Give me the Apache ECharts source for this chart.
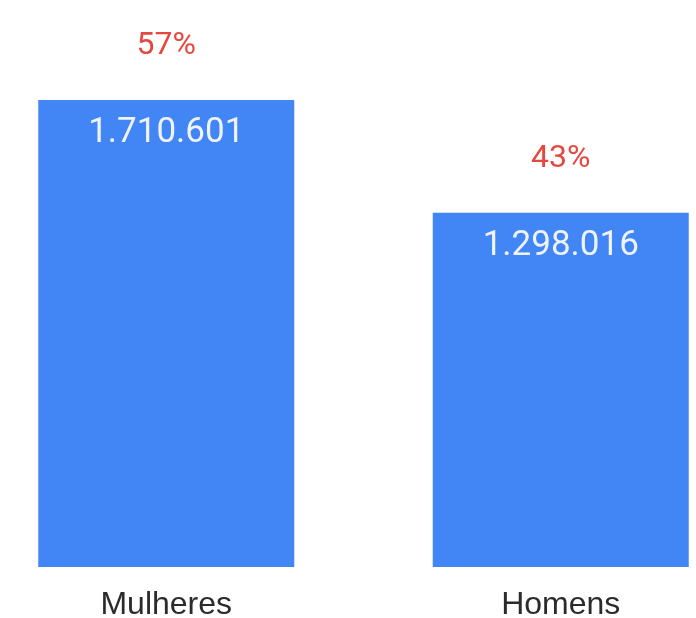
<!DOCTYPE html>
<html>
<head>
<meta charset="utf-8">
<script src="https://cdn.jsdelivr.net/npm/echarts@6/dist/echarts.min.js"></script>
<style>
  html, body { margin: 0; padding: 0; background: #fff; }
  #chart { width: 696px; height: 618px; }
</style>
</head>
<body>
<div id="chart"></div>
<script>
// Bar chart: population by sex, with share above each bar.
var categories = ['Mulheres', 'Homens'];
var values = [1710601, 1298016];
var shares = [57, 43];

function fmtPt(n) {
    // thousands separated by dots (pt-BR style)
    return String(n).replace(/\B(?=(\d{3})+(?!\d))/g, '.');
}

var chart = echarts.init(document.getElementById('chart'), null, { renderer: 'canvas' });

var option = {
    backgroundColor: '#ffffff',
    animation: false,
    grid: {
        left: -31, right: -62, top: 100, bottom: 51,
        containLabel: false,
        outerBoundsMode: 'none'
    },
    xAxis: {
        type: 'category',
        data: categories,
        axisLine: { show: false },
        axisTick: { show: false },
        axisLabel: {
            margin: 22,
            fontSize: 32,
            fontFamily: 'Liberation Sans, Arial, sans-serif',
            color: '#2b2b2b'
        }
    },
    yAxis: {
        type: 'value',
        min: 0,
        max: values[0],
        show: false,
        splitLine: { show: false }
    },
    series: [
        {
            type: 'bar',
            data: values,
            barWidth: 256,
            itemStyle: { color: '#4285f4' },
            label: {
                show: true,
                position: 'insideTop',
                distance: 16,
                fontSize: 35,
                fontFamily: 'Roboto, sans-serif',
                color: '#eef3ff',
                formatter: function (p) { return fmtPt(p.value); }
            }
        },
        {
            // invisible twin series just to carry the share label above the bar
            type: 'bar',
            data: values,
            barWidth: 256,
            barGap: '-100%',
            itemStyle: { color: 'rgba(0,0,0,0)' },
            silent: true,
            label: {
                show: true,
                position: 'top',
                distance: 38,
                fontSize: 32,
                fontFamily: 'Roboto, sans-serif',
                color: '#e4483f',
                formatter: function (p) { return shares[p.dataIndex] + '%'; }
            }
        }
    ]
};

chart.setOption(option);
</script>
</body>
</html>
